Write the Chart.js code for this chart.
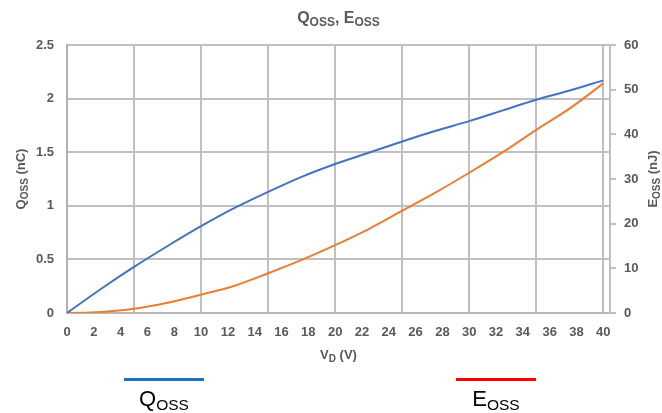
<!DOCTYPE html>
<html>
<head>
<meta charset="utf-8">
<script src="https://cdn.jsdelivr.net/npm/chart.js@4.4.1/dist/chart.umd.min.js"></script>
<style>
  html, body { margin: 0; padding: 0; background: #ffffff; }
  #wrap { width: 662px; height: 413px; position: relative; }
</style>
</head>
<body>
<div id="wrap"><canvas id="c"></canvas></div>
<script>
// ---- data ----
const vd   = [0, 2.5, 5, 7.5, 10, 12.5, 15, 17.5, 20, 22.5, 25, 27.5, 30, 32.5, 35, 37.5, 40];
const qoss = [0, 0.222, 0.43, 0.625, 0.81, 0.98, 1.13, 1.27, 1.39, 1.495, 1.60, 1.70, 1.79, 1.89, 1.99, 2.075, 2.17];
const eoss = [0, 0.25, 0.95, 2.3, 4.1, 6.1, 8.9, 11.9, 15.2, 18.8, 22.9, 27.0, 31.4, 36.0, 41.0, 45.8, 51.4];

const xTickLabels = [0, 2, 4, 6, 8, 10, 12, 14, 16, 18, 20, 22, 24, 26, 28, 30, 32, 34, 36, 38, 40];
const xGridValues = [0, 5, 10, 15, 20, 25, 30, 35, 40];
const yLeftTicks  = [0, 0.5, 1, 1.5, 2, 2.5];
const yRightTicks = [0, 10, 20, 30, 40, 50, 60];

const FONT = '"Liberation Sans", Arial, sans-serif';
const GRAY = '#595959';
const GRID = '#c0c0c0';

function drawRich(ctx, parts, x, y, size, weight, color, subSize, subDrop) {
  ctx.save();
  ctx.fillStyle = color;
  ctx.textBaseline = 'alphabetic';
  ctx.textAlign = 'left';
  let w = 0;
  parts.forEach(p => {
    ctx.font = weight + ' ' + (p[1] ? subSize : size) + 'px ' + FONT;
    w += ctx.measureText(p[0]).width;
  });
  let cx = x - w / 2;
  parts.forEach(p => {
    ctx.font = weight + ' ' + (p[1] ? subSize : size) + 'px ' + FONT;
    ctx.fillText(p[0], cx, y + (p[1] ? subDrop : 0));
    cx += ctx.measureText(p[0]).width;
  });
  ctx.restore();
}

const textPlugin = {
  id: 'texts',
  afterDraw(chart) {
    const ctx = chart.ctx;
    const ca = chart.chartArea;
    const midX = (ca.left + ca.right) / 2;
    // title
    drawRich(ctx, [['Q', false], ['OSS', true], [', E', false], ['OSS', true]], midX, 23, 16, 'bold', GRAY, 12, 3);
    // x title
    drawRich(ctx, [['V', false], ['D', true], [' (V)', false]], midX, 359, 13, 'bold', GRAY, 10, 3);
    // left y title
    ctx.save();
    ctx.translate(25, (ca.top + ca.bottom) / 2);
    ctx.rotate(-Math.PI / 2);
    drawRich(ctx, [['Q', false], ['OSS', true], [' (nC)', false]], 0, 0, 13, 'bold', GRAY, 10, 3);
    ctx.restore();
    // right y title
    ctx.save();
    ctx.translate(657, (ca.top + ca.bottom) / 2);
    ctx.rotate(-Math.PI / 2);
    drawRich(ctx, [['E', false], ['OSS', true], [' (nJ)', false]], 0, 0, 13, 'bold', GRAY, 10, 3);
    ctx.restore();
    // legend
    ctx.save();
    ctx.lineWidth = 3;
    ctx.strokeStyle = '#1f70c1';
    ctx.beginPath(); ctx.moveTo(124, 379.5); ctx.lineTo(204, 379.5); ctx.stroke();
    ctx.strokeStyle = '#ff0000';
    ctx.beginPath(); ctx.moveTo(456, 379.5); ctx.lineTo(536, 379.5); ctx.stroke();
    ctx.restore();
    drawRich(ctx, [['Q', false], ['OSS', true]], 164, 406, 22, 'normal', '#000000', 15.5, 4);
    drawRich(ctx, [['E', false], ['OSS', true]], 496, 406, 22, 'normal', '#000000', 15.5, 4);
  }
};

const allXTicks = Array.from(new Set(xTickLabels.concat(xGridValues))).sort((a, b) => a - b);

new Chart(document.getElementById('c'), {
  type: 'line',
  data: {
    datasets: [
      {
        label: 'Qoss',
        data: vd.map((v, i) => ({ x: v, y: qoss[i] })),
        yAxisID: 'y',
        borderColor: '#4472c4',
        borderWidth: 2,
        pointRadius: 0,
        cubicInterpolationMode: 'monotone',
        fill: false
      },
      {
        label: 'Eoss',
        data: vd.map((v, i) => ({ x: v, y: eoss[i] })),
        yAxisID: 'y1',
        borderColor: '#ed7d31',
        borderWidth: 2,
        pointRadius: 0,
        cubicInterpolationMode: 'monotone',
        fill: false
      }
    ]
  },
  options: {
    responsive: true,
    maintainAspectRatio: false,
    animation: false,
    layout: { padding: { top: 45, bottom: 70, left: 0, right: 0 } },
    plugins: {
      legend: { display: false },
      title: { display: false },
      tooltip: { enabled: false }
    },
    scales: {
      x: {
        type: 'linear',
        min: 0,
        max: 40.5,
        afterBuildTicks: s => { s.ticks = allXTicks.map(v => ({ value: v })); },
        afterFit: s => { s.height = 30; },
        ticks: {
          autoSkip: false,
          maxRotation: 0,
          padding: 12,
          color: GRAY,
          font: { family: FONT, size: 13, weight: 'bold' },
          callback: v => xTickLabels.includes(v) ? String(v) : ''
        },
        grid: {
          drawTicks: false,
          lineWidth: 2,
          color: c => (c.tick && xGridValues.includes(c.tick.value)) ? GRID : 'rgba(0,0,0,0)'
        },
        border: { color: '#b8b8b8', width: 2 }
      },
      y: {
        position: 'left',
        min: 0,
        max: 2.5,
        afterBuildTicks: s => { s.ticks = yLeftTicks.map(v => ({ value: v })); },
        afterFit: s => { s.width = 67; },
        ticks: {
          padding: 13,
          color: GRAY,
          font: { family: FONT, size: 13, weight: 'bold' },
          callback: v => String(v)
        },
        grid: { drawTicks: false, lineWidth: 2, color: GRID },
        border: { color: '#b0b0b0', width: 2 }
      },
      y1: {
        position: 'right',
        min: 0,
        max: 60,
        afterBuildTicks: s => { s.ticks = yRightTicks.map(v => ({ value: v })); },
        afterFit: s => { s.width = 52; },
        ticks: {
          padding: 8,
          color: GRAY,
          font: { family: FONT, size: 13, weight: 'bold' },
          callback: v => String(v)
        },
        grid: { drawOnChartArea: false, drawTicks: true, tickLength: 6, lineWidth: 2, color: GRID },
        border: { color: GRID, width: 2 }
      }
    }
  },
  plugins: [textPlugin]
});
</script>
</body>
</html>
